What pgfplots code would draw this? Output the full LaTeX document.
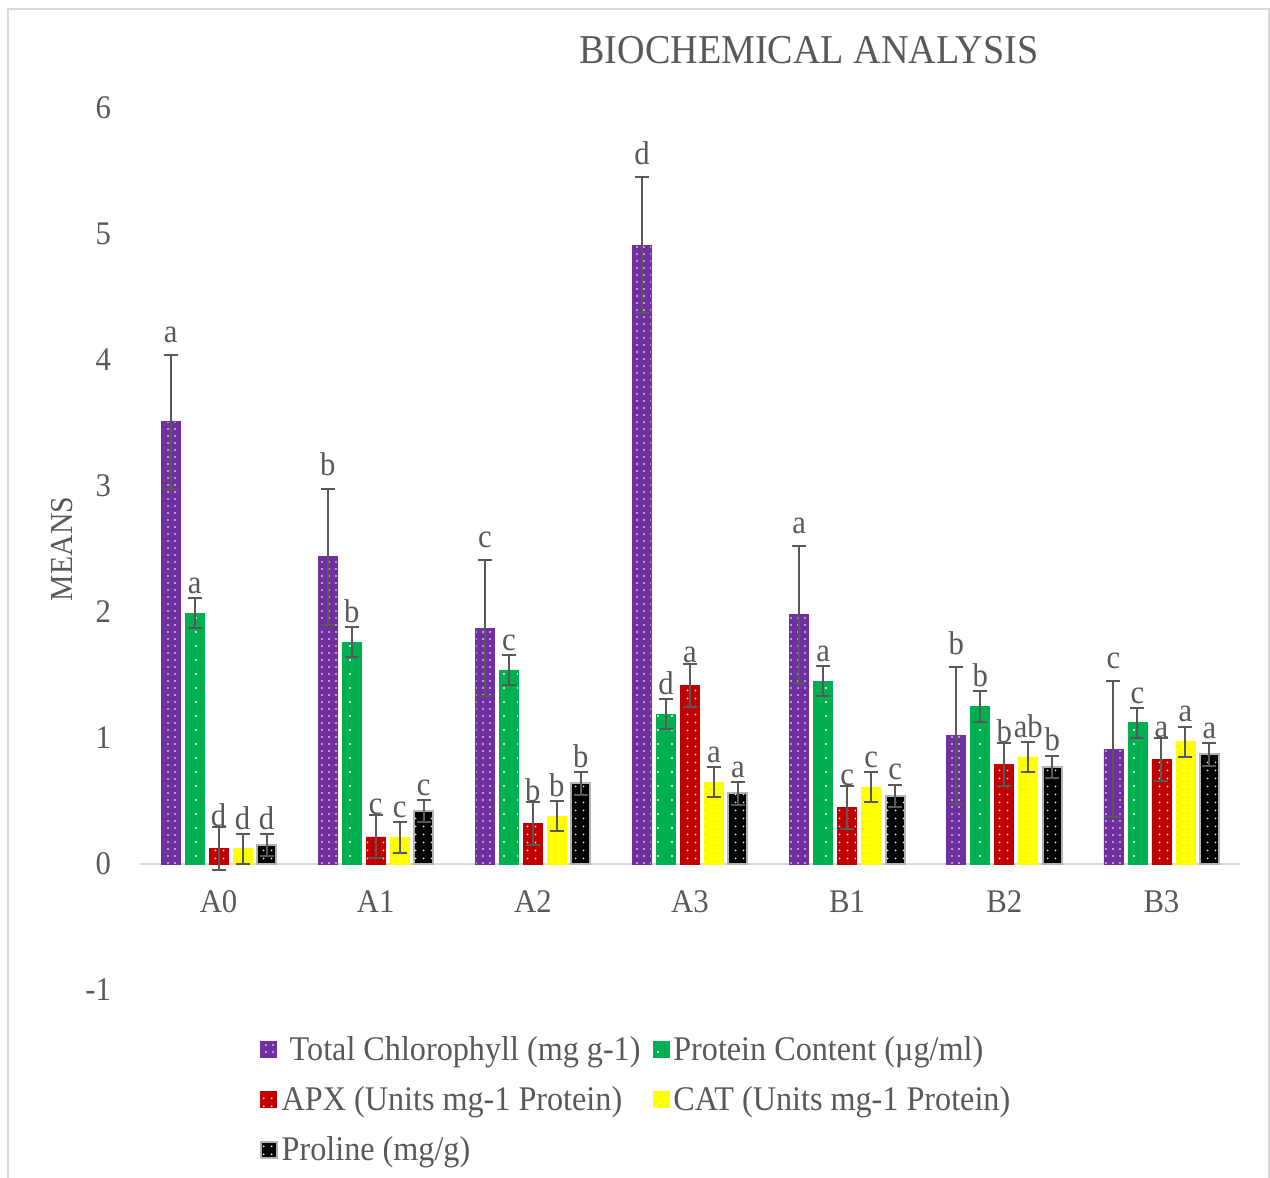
\documentclass[border=0pt]{standalone}
\usepackage{pgfplots}
\pgfplotsset{compat=1.18}
\usepackage{pgfplotstable}
\usepackage{fontspec}
\setmainfont{Liberation Serif}[FakeStretch=0.93]
\usetikzlibrary{patterns.meta}

\definecolor{chlcol}{HTML}{7030A0}
\definecolor{protcol}{HTML}{00B050}
\definecolor{apxcol}{HTML}{C00000}
\definecolor{catcol}{HTML}{FFFF00}
\definecolor{procol}{HTML}{000000}
\definecolor{txtcol}{HTML}{595959}
\definecolor{linecol}{HTML}{D9D9D9}
\definecolor{errcol}{HTML}{595959}

% means, standard errors and significance letters per treatment
\pgfplotstableread{
x  chl  chlE chlL prot protE protL apx   apxE apxL cat  catE catL pro  proE proL
0  3.51 0.53 a    1.99 0.12  a     0.125 0.17 d    0.12 0.12 d    0.15 0.09 d
1  2.44 0.54 b    1.76 0.12  b     0.215 0.17 c    0.21 0.12 c    0.42 0.09 c
2  1.87 0.54 c    1.54 0.12  c     0.32  0.17 b    0.38 0.12 b    0.64 0.09 b
3  4.91 0.54 d    1.19 0.12  d     1.42  0.17 a    0.65 0.12 a    0.56 0.09 a
4  1.98 0.54 a    1.45 0.12  a     0.45  0.17 c    0.61 0.12 c    0.54 0.09 c
5  1.02 0.54 b    1.25 0.12  b     0.79  0.17 b    0.85 0.12 ab   0.77 0.09 b
6  0.91 0.54 c    1.12 0.12  c     0.83  0.17 a    0.97 0.12 a    0.87 0.09 a
}\datatable

\begin{document}
\begin{tikzpicture}[font=\fontsize{16}{19}\selectfont, text=txtcol]
% page frame (1270 x 1178 px at 0.5pt per px, plot area origin at px (140,990))
\path[use as bounding box] (-70pt,-94pt) rectangle (565pt,495pt);
\draw[linecol, line width=1pt] (-66pt,-100pt) -- (-66pt,490.5pt) -- (564.5pt,490.5pt) -- (564.5pt,-100pt);

\begin{axis}[
  at={(0,0)}, anchor=south west,
  scale only axis,
  width=550pt, height=441pt,
  xmin=-0.5, xmax=6.5,
  ymin=-1, ymax=6,
  ytick={-1,0,...,6},
  xtick={0,...,6},
  xticklabels={A0,A1,A2,A3,B1,B2,B3},
  axis line style={draw=none},
  tick style={draw=none},
  major tick length=0pt,
  xticklabel style={anchor=center, yshift=44pt, text=txtcol},
  yticklabel style={xshift=-11pt, text=txtcol},
  /pgf/number format/assume math mode=true,
  ticklabel style={font=\fontsize{16.5}{19}\selectfont},
  extra y ticks={0},
  extra y tick labels={},
  extra y tick style={grid=major, major grid style={linecol, line width=1pt}},
  ylabel={MEANS},
  ylabel style={at={(axis description cs:-0.071,0.5)}, anchor=center, text=txtcol, font=\fontsize{16}{19}\selectfont},
  ybar, bar width=9.5pt,
  legend columns=2,
  legend cell align=left,
  legend style={
    at={(axis description cs:0.103,-0.043)}, anchor=north west,
    draw=none, fill=none,
    font=\fontsize{17.3}{20}\selectfont, text=txtcol,
    /tikz/every even column/.append style={column sep=4pt},
    row sep=7.5pt,
  },
  legend image code/.code={\draw[#1] (0pt,-4pt) rectangle (8pt,4pt);},
  every node near coord/.append style={font=\fontsize{16.5}{19}\selectfont, text=txtcol, anchor=south, inner sep=1pt},
  errlayer/.style={forget plot, draw=none, fill=none,
    error bars/y dir=both, error bars/y explicit,
    error bars/error bar style={errcol, line width=1pt},
    error bars/error mark options={rotate=90, errcol, mark size=3.5pt, line width=1pt}},
]

% filled, dotted bars
\addplot[bar shift=-24pt, fill=chlcol, draw=chlcol,
  postaction={pattern={Dots[distance=3.5pt, radius=0.45pt]}, pattern color=white}]
  table[x=x, y=chl] {\datatable};
\addlegendentry{\ Total Chlorophyll (mg g-1)}
\addplot[bar shift=-12pt, fill=protcol, draw=protcol,
  postaction={pattern={Dots[distance=7pt, radius=0.55pt]}, pattern color=white}]
  table[x=x, y=prot] {\datatable};
\addlegendentry{Protein Content (µg/ml)}
\addplot[bar shift=0pt, fill=apxcol, draw=apxcol,
  postaction={pattern={Dots[distance=4pt, radius=0.5pt]}, pattern color=white}]
  table[x=x, y=apx] {\datatable};
\addlegendentry{APX (Units mg-1 Protein)}
\addplot[bar shift=12pt, fill=catcol, draw=catcol,
  postaction={pattern={Dots[distance=4pt, radius=0.5pt]}, pattern color=white}]
  table[x=x, y=cat] {\datatable};
\addlegendentry{CAT (Units mg-1 Protein)}
\addplot[bar shift=24pt, fill=procol, draw=black!30, line width=1pt,
  postaction={pattern={Dots[distance=4pt, radius=0.5pt]}, pattern color=white}]
  table[x=x, y=pro] {\datatable};
\addlegendentry{Proline (mg/g)}

% error bars and significance letters
\addplot[bar shift=-24pt, errlayer, nodes near coords, point meta=explicit symbolic,
  visualization depends on={\thisrow{chlE} \as \errv},
  every node near coord/.append style={yshift=\errv*63pt+5pt}]
  table[x=x, y=chl, y error=chlE, meta=chlL] {\datatable};
\addplot[bar shift=-12pt, errlayer, nodes near coords, point meta=explicit symbolic,
  visualization depends on={\thisrow{protE} \as \errv},
  every node near coord/.append style={yshift=\errv*63pt+1pt}]
  table[x=x, y=prot, y error=protE, meta=protL] {\datatable};
\addplot[bar shift=0pt, errlayer, nodes near coords, point meta=explicit symbolic,
  visualization depends on={\thisrow{apxE} \as \errv},
  every node near coord/.append style={yshift=\errv*63pt-1pt}]
  table[x=x, y=apx, y error=apxE, meta=apxL] {\datatable};
\addplot[bar shift=12pt, errlayer, nodes near coords, point meta=explicit symbolic,
  visualization depends on={\thisrow{catE} \as \errv},
  every node near coord/.append style={yshift=\errv*63pt+1pt}]
  table[x=x, y=cat, y error=catE, meta=catL] {\datatable};
\addplot[bar shift=24pt, errlayer, nodes near coords, point meta=explicit symbolic,
  visualization depends on={\thisrow{proE} \as \errv},
  every node near coord/.append style={yshift=\errv*63pt+1pt}]
  table[x=x, y=pro, y error=proE, meta=proL] {\datatable};
\end{axis}

\node[font=\fontsize{20.5}{24}\selectfont, text=txtcol] at (334.5pt,470pt) {BIOCHEMICAL ANALYSIS};
\end{tikzpicture}
\end{document}
